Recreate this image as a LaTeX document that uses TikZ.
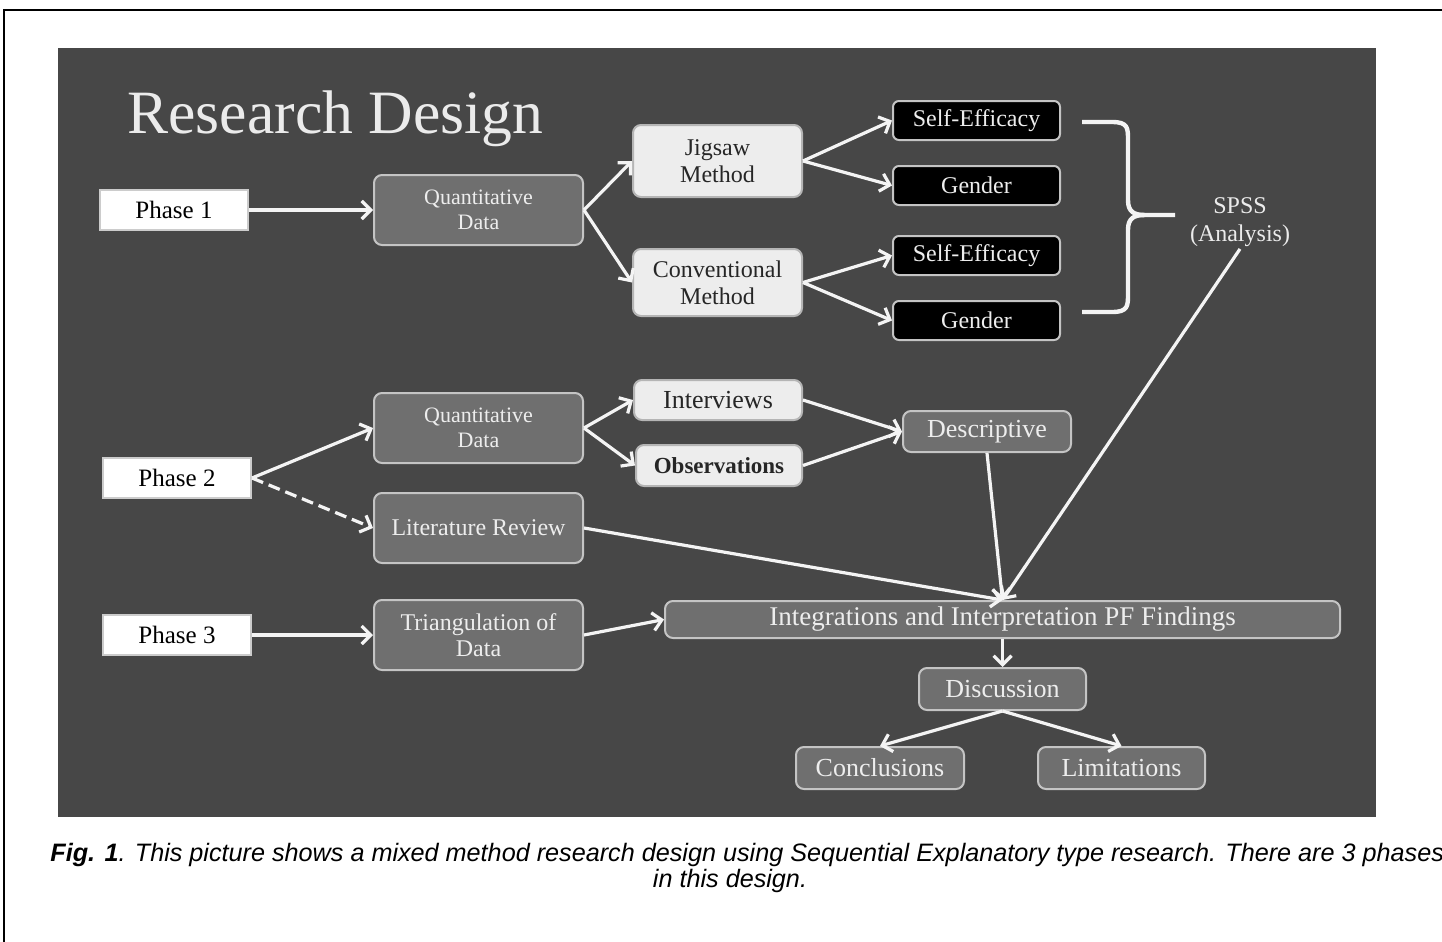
\documentclass[tikz,border=0pt]{standalone}
\usepackage{fontspec}
\setmainfont{Liberation Serif}
\newfontfamily\capfont{Liberation Sans}
\usetikzlibrary{arrows.meta}
\definecolor{panel}{HTML}{474747}
\definecolor{midfill}{HTML}{6F6F6F}
\definecolor{midline}{HTML}{C4C4C4}
\definecolor{lightfill}{HTML}{EDEDED}
\definecolor{lightline}{HTML}{B5B5B5}
\definecolor{arrowc}{HTML}{F4F4F4}
\newcommand\mybox[7]{\node[#6, minimum width={(#4-#2)*0.5pt}, minimum height={(#5-#3)*0.5pt}] (#1) at ({(#2+#4)/2},{(#3+#5)/2}) {#7};}
\begin{document}
\begin{tikzpicture}[x=0.5pt,y=-0.5pt,
  base/.style={inner sep=0pt, align=center, line width=1pt},
  phasebox/.style={base, fill=white, draw=white!80!black, text=black, font=\fontsize{12.5}{15}\selectfont},
  midbox/.style={base, rounded corners=4pt, fill=midfill, draw=midline, text=white!93!black, font=\fontsize{11}{12.5}\selectfont},
  lightbox/.style={base, rounded corners=4pt, fill=lightfill, draw=lightline, text=black!85, font=\fontsize{12}{13.5}\selectfont},
  blackbox/.style={base, rounded corners=3pt, fill=black, draw=midline, text=white!93!black, font=\fontsize{12}{14}\selectfont},
  arr/.style={draw=arrowc, line width=1.6pt, -{Straight Barb[length=4.5pt,width=9pt]}},
]
\useasboundingbox (0,0) rectangle (1442,942);
\fill[white] (0,0) rectangle (1442,942);
\draw[line width=1pt] (4,942) -- (4,10) -- (1442,10);
\fill[panel] (58,48) rectangle (1376,817);

\node[anchor=base west, text=white!92!black, font=\fontsize{30.8}{34}\selectfont, inner sep=0pt] (title) at (127,133) {Research Design};

\mybox{p1}{100}{190}{248}{230}{phasebox}{Phase 1}
\mybox{qd1}{374}{175}{583}{245}{midbox}{Quantitative\\Data}
\mybox{jig}{633}{125}{802}{197}{lightbox}{Jigsaw\\Method}
\mybox{conv}{633}{249}{802}{316}{lightbox}{Conventional\\Method}
\mybox{se1}{893}{101}{1060}{140}{blackbox}{Self-Efficacy}
\mybox{g1}{893}{166}{1060}{205}{blackbox}{Gender}
\mybox{se2}{893}{236}{1060}{275}{blackbox}{Self-Efficacy}
\mybox{g2}{893}{301}{1060}{340}{blackbox}{Gender}
\node[text=white!92!black, align=center, inner sep=1pt, font=\fontsize{12}{14}\selectfont] (spss) at (1240,222) {SPSS\\(Analysis)};

\mybox{p2}{103}{458}{251}{498}{phasebox}{Phase 2}
\mybox{qd2}{374}{393}{583}{463}{midbox}{Quantitative\\Data}
\mybox{int}{634}{380}{802}{420}{lightbox,font=\fontsize{13}{15}\selectfont}{Interviews}
\mybox{obs}{636}{445}{802}{486}{lightbox,font=\bfseries\fontsize{11.5}{13}\selectfont}{Observations}
\mybox{desc}{903}{411}{1071}{452}{midbox,font=\fontsize{13}{15}\selectfont}{Descriptive}
\mybox{lit}{374}{493}{583}{563}{midbox,font=\fontsize{12}{14}\selectfont}{Literature Review}

\mybox{p3}{103}{615}{251}{655}{phasebox}{Phase 3}
\mybox{tri}{374}{600}{583}{670}{midbox,font=\fontsize{12}{13}\selectfont}{Triangulation of\\Data}
\mybox{integ}{665}{601}{1340}{638}{midbox,font=\fontsize{13.5}{15}\selectfont}{Integrations and Interpretation PF Findings}
\mybox{disc}{919}{668}{1086}{710}{midbox,font=\fontsize{13}{15}\selectfont}{Discussion}
\mybox{conc}{796}{747}{964}{789}{midbox,font=\fontsize{13}{15}\selectfont}{Conclusions}
\mybox{lim}{1038}{747}{1205}{789}{midbox,font=\fontsize{13}{15}\selectfont}{Limitations}

% brace
\draw[arrowc, line width=2.2pt, line join=round]
  (1082,122) -- (1112,122) .. controls (1128,122) and (1128,128) .. (1128,140)
  -- (1128,200) .. controls (1128,212) and (1134,215) .. (1145,215) -- (1175,215);
\draw[arrowc, line width=2.2pt, line join=round]
  (1082,312) -- (1112,312) .. controls (1128,312) and (1128,306) .. (1128,294)
  -- (1128,230) .. controls (1128,218) and (1134,215) .. (1145,215);

% arrows
\draw[arr] (p1.east) -- (qd1.west);
\draw[arr] (qd1.east) -- (jig.west);
\draw[arr] (qd1.east) -- (conv.west);
\draw[arr] (jig.east) -- (se1.west);
\draw[arr] (jig.east) -- (g1.west);
\draw[arr] (conv.east) -- (se2.west);
\draw[arr] (conv.east) -- (g2.west);
\draw[arr] (p2.east) -- (qd2.west);
\draw[arr, dashed, dash pattern=on 6pt off 3pt] (p2.east) -- (lit.west);
\draw[arr] (qd2.east) -- (int.west);
\draw[arr] (qd2.east) -- (obs.west);
\draw[arr] (int.east) -- (desc.west);
\draw[arr] (obs.east) -- (desc.west);
\draw[arr] (desc.south) -- (integ.north);
\draw[arr] (lit.east) -- (integ.north);
\draw[arr] (spss.south) -- (integ.north);
\draw[arr] (p3.east) -- (tri.west);
\draw[arr] (tri.east) -- (integ.west);
\draw[arr] (integ.south) -- (disc.north);
\draw[arr] (disc.south) -- (conc.north);
\draw[arr] (disc.south) -- (lim.north);

% caption
\node[anchor=base west, inner sep=0pt, font=\capfont\itshape\fontsize{12.6}{14}\selectfont] (cap1) at (50,861)
  {\textbf{Fig. 1}. This picture shows a mixed method research design using Sequential Explanatory type research. There are 3 phases};
\node[anchor=base, inner sep=0pt, font=\capfont\itshape\fontsize{12.6}{14}\selectfont] (cap2) at (730,887) {in this design.};
\end{tikzpicture}
\end{document}
